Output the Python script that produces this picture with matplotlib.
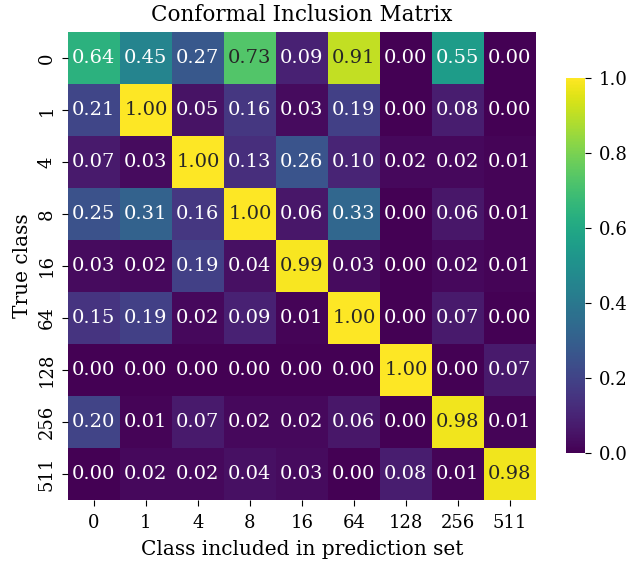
import numpy as np
import matplotlib
matplotlib.use("Agg")
import matplotlib.pyplot as plt
import seaborn as sns

classes = ["0", "1", "4", "8", "16", "64", "128", "256", "511"]
inclusion = np.array([
    [0.64, 0.45, 0.27, 0.73, 0.09, 0.91, 0.00, 0.55, 0.00],
    [0.21, 1.00, 0.05, 0.16, 0.03, 0.19, 0.00, 0.08, 0.00],
    [0.07, 0.03, 1.00, 0.13, 0.26, 0.10, 0.02, 0.02, 0.01],
    [0.25, 0.31, 0.16, 1.00, 0.06, 0.33, 0.00, 0.06, 0.01],
    [0.03, 0.02, 0.19, 0.04, 0.99, 0.03, 0.00, 0.02, 0.01],
    [0.15, 0.19, 0.02, 0.09, 0.01, 1.00, 0.00, 0.07, 0.00],
    [0.00, 0.00, 0.00, 0.00, 0.00, 0.00, 1.00, 0.00, 0.07],
    [0.20, 0.01, 0.07, 0.02, 0.02, 0.06, 0.00, 0.98, 0.01],
    [0.00, 0.02, 0.02, 0.04, 0.03, 0.00, 0.08, 0.01, 0.98],
])

plt.rcParams['font.family'] = 'DejaVu Serif'

fig = plt.figure(figsize=(6.29, 5.64), dpi=100)
ax = fig.add_axes([0.108, 0.1135, 0.744, 0.8298])
cax = fig.add_axes([0.9, 0.197, 0.030, 0.665])
sns.heatmap(inclusion, annot=True, fmt=".2f", cmap="viridis", vmin=0, vmax=1,
            xticklabels=classes, yticklabels=classes, ax=ax, cbar_ax=cax,
            annot_kws={"size": 14})
cax.tick_params(labelsize=13, length=4.5, pad=5.5)
ax.tick_params(labelsize=13, length=4.5, pad=5.5)
ax.tick_params(axis="y", pad=4.5)
plt.setp(ax.get_yticklabels(), rotation=90, va="center")
plt.setp(ax.get_xticklabels(), rotation=0)
ax.set_title("Conformal Inclusion Matrix", fontsize=15.5, pad=8)
ax.set_xlabel("Class included in prediction set", fontsize=14.5, labelpad=6)
ax.set_ylabel("True class", fontsize=14.5, labelpad=4)
fig.savefig("out.png", dpi=100)
